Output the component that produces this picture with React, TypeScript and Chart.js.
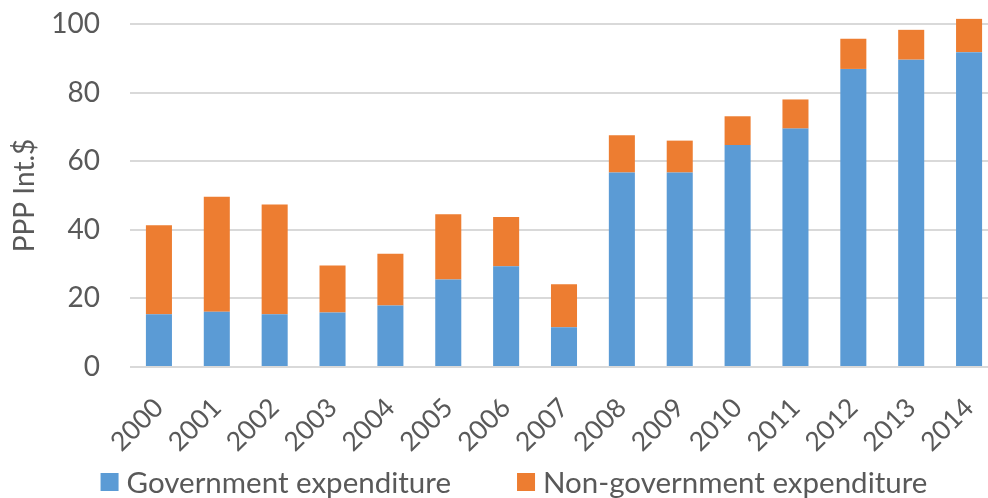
import React, { useEffect, useRef } from "react";
import { Chart, registerables } from "chart.js";

Chart.register(...registerables);

const years = ["2000","2001","2002","2003","2004","2005","2006","2007","2008","2009","2010","2011","2012","2013","2014"];
const governmentExpenditure = [15.4, 16.1, 15.4, 15.9, 17.9, 25.5, 29.4, 11.6, 56.7, 56.7, 64.7, 69.5, 86.9, 89.6, 91.8];
const nonGovernmentExpenditure = [25.9, 33.5, 32.0, 13.7, 15.1, 19.0, 14.3, 12.5, 10.9, 9.3, 8.4, 8.5, 8.8, 8.7, 9.7];
const yTicks = [0, 20, 40, 60, 80, 100];

const FONT = "Lato, 'Open Sans', sans-serif";
const TEXT = "#595959";
const GRID = "#d9d9d9";

const bottomLegend = {
  id: "bottomLegend",
  afterDraw(chart: any) {
    const ctx = chart.ctx;
    const box = 18;
    const textGap = 8;
    const itemGap = 66;
    const centerX = 514;
    const centerY = 482;
    ctx.save();
    ctx.font = `29.5px ${FONT}`;
    const items = chart.data.datasets.map((d: any) => ({
      label: d.label as string,
      color: d.backgroundColor as string,
      w: ctx.measureText(d.label).width,
    }));
    const total =
      items.reduce((a: number, it: any) => a + box + textGap + it.w, 0) +
      itemGap * (items.length - 1);
    let x = centerX - total / 2;
    ctx.textBaseline = "middle";
    ctx.textAlign = "left";
    for (const it of items) {
      ctx.fillStyle = it.color;
      ctx.fillRect(x, centerY - box / 2, box, box);
      ctx.fillStyle = TEXT;
      ctx.fillText(it.label, x + box + textGap, centerY + 1);
      x += box + textGap + it.w + itemGap;
    }
    ctx.restore();
  },
};

export default function App() {
  const ref = useRef<HTMLCanvasElement | null>(null);
  useEffect(() => {
    document.body.style.margin = "0";
    document.body.style.overflow = "hidden";
    if (!ref.current) return;
    const chart = new Chart(ref.current, {
      type: "bar",
      data: {
        labels: years,
        datasets: [
          {
            label: "Government expenditure",
            data: governmentExpenditure,
            backgroundColor: "#5B9BD5",
            categoryPercentage: 1,
            barPercentage: 0.45,
            clip: false as any,
          },
          {
            label: "Non-government expenditure",
            data: nonGovernmentExpenditure,
            backgroundColor: "#ED7D31",
            categoryPercentage: 1,
            barPercentage: 0.45,
            clip: false as any,
          },
        ],
      },
      options: {
        animation: false,
        responsive: false,
        devicePixelRatio: 1,
        layout: { padding: { top: 24, right: 0, bottom: 0, left: 0 } },
        plugins: {
          tooltip: { enabled: false },
          legend: { display: false },
        },
        scales: {
          x: {
            stacked: true,
            grid: { display: false },
            border: { display: false },
            ticks: {
              color: TEXT,
              font: { family: FONT, size: 26.5 },
              minRotation: 45,
              maxRotation: 45,
              autoSkip: false,
              padding: 17,
            },
            afterFit: (s: any) => {
              s.height = 131;
              s.paddingLeft = 0;
              s.paddingRight = 0;
            },
          },
          y: {
            stacked: true,
            min: 0,
            max: 100,
            afterBuildTicks: (s: any) => {
              s.ticks = yTicks.map((v) => ({ value: v }));
            },
            grid: { color: GRID, lineWidth: 2, drawTicks: false },
            border: { display: false },
            ticks: {
              color: TEXT,
              font: { family: FONT, size: 28 },
              padding: 30,
            },
            title: {
              display: true,
              text: "PPP Int.$",
              color: TEXT,
              font: { family: FONT, size: 28 },
              padding: { top: 8, bottom: 0 },
            },
            afterFit: (s: any) => {
              s.width = 130;
              s.paddingTop = 0;
              s.paddingBottom = 0;
            },
          },
        },
      },
      plugins: [bottomLegend],
    });
    return () => chart.destroy();
  }, []);
  return (
    <div style={{ position: "absolute", left: 0, top: 0, width: 998, height: 498 }}>
      <canvas ref={ref} width={998} height={498} />
    </div>
  );
}
